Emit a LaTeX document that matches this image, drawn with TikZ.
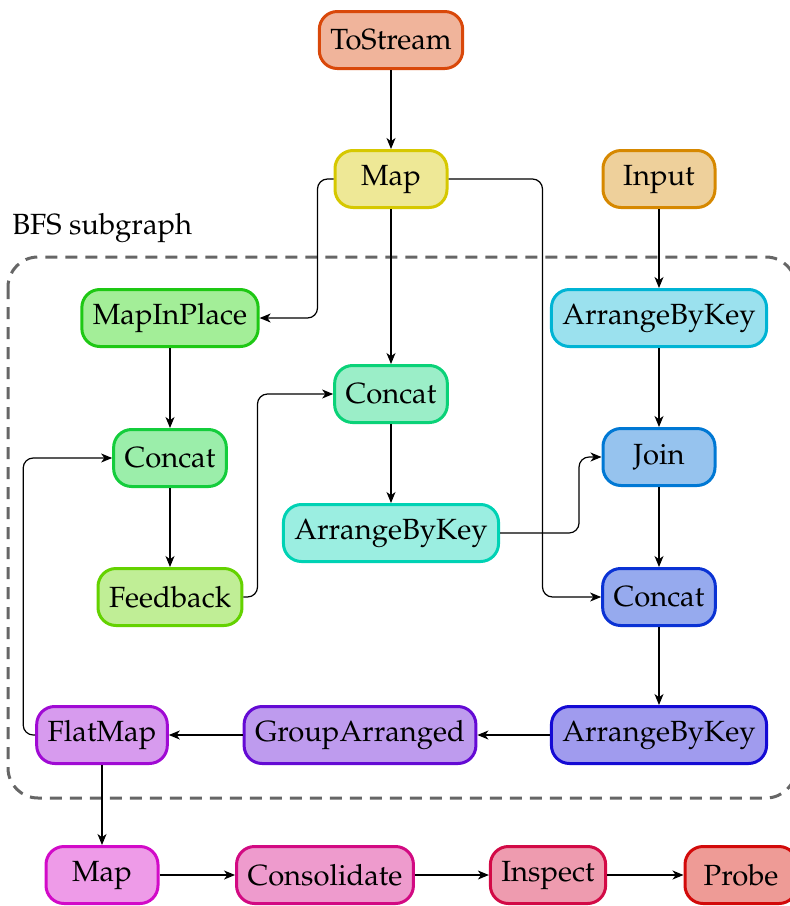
\documentclass[tikz,border=0pt]{standalone}
\usepackage[T1]{fontenc}
\usepackage{mathpazo}
\usetikzlibrary{arrows.meta}

% border / fill colours of the operator boxes
\definecolor{bToStream}{RGB}{217,72,10}   \definecolor{fToStream}{RGB}{240,180,155}
\definecolor{bMapA}{RGB}{214,200,0}       \definecolor{fMapA}{RGB}{238,232,150}
\definecolor{bInput}{RGB}{214,136,0}      \definecolor{fInput}{RGB}{238,208,155}
\definecolor{bMapIP}{RGB}{30,200,20}      \definecolor{fMapIP}{RGB}{163,238,152}
\definecolor{bConcatL}{RGB}{20,205,60}    \definecolor{fConcatL}{RGB}{155,238,170}
\definecolor{bFeedback}{RGB}{100,210,0}   \definecolor{fFeedback}{RGB}{192,238,150}
\definecolor{bConcatM}{RGB}{10,210,120}   \definecolor{fConcatM}{RGB}{155,238,200}
\definecolor{bAbkT}{RGB}{0,210,180}       \definecolor{fAbkT}{RGB}{155,238,225}
\definecolor{bAbkC}{RGB}{0,180,212}       \definecolor{fAbkC}{RGB}{155,225,238}
\definecolor{bJoin}{RGB}{0,120,212}       \definecolor{fJoin}{RGB}{150,195,238}
\definecolor{bConcatB}{RGB}{10,50,212}    \definecolor{fConcatB}{RGB}{150,170,238}
\definecolor{bAbkV}{RGB}{20,10,212}       \definecolor{fAbkV}{RGB}{160,155,238}
\definecolor{bGroup}{RGB}{100,10,212}     \definecolor{fGroup}{RGB}{190,155,238}
\definecolor{bFlat}{RGB}{160,10,212}      \definecolor{fFlat}{RGB}{215,155,238}
\definecolor{bMapB}{RGB}{210,10,200}      \definecolor{fMapB}{RGB}{238,155,232}
\definecolor{bCons}{RGB}{210,10,130}      \definecolor{fCons}{RGB}{238,155,205}
\definecolor{bInsp}{RGB}{210,10,70}       \definecolor{fInsp}{RGB}{238,155,175}
\definecolor{bProbe}{RGB}{210,10,10}      \definecolor{fProbe}{RGB}{238,155,150}
\definecolor{frame}{RGB}{102,102,102}

\tikzset{
  op/.style 2 args={draw=#1, fill=#2, line width=1.5pt, rounded corners=9pt,
    minimum height=28.5pt, minimum width=56pt, inner xsep=5.5pt,
    font=\fontsize{14.6}{17.5}\selectfont},
  arr/.style={-{Stealth[length=5.5pt,width=4.5pt,inset=1.6pt]}, line width=0.6pt,
    rounded corners=5pt},
  subgraph/.style={draw=frame, line width=1.5pt, dash pattern=on 6pt off 4pt,
    rounded corners=15pt},
}

\begin{document}
\begin{tikzpicture}[x=0.5pt, y=-0.5pt]
\useasboundingbox (0,0) rectangle (790,906);

% cluster frame and its caption
\draw[subgraph] (8,257) rectangle (796,798);
\node[anchor=west, inner sep=0pt, font=\fontsize{14.6}{17.5}\selectfont] (cap) at (12,228) {BFS subgraph};

% operators
\node[op={bToStream}{fToStream}] (tostream) at (391,40)  {ToStream};
\node[op={bMapA}{fMapA}]         (mapA)     at (391,179) {Map};
\node[op={bInput}{fInput}]       (input)    at (659,179) {Input};
\node[op={bMapIP}{fMapIP}]       (mapip)    at (170,318) {MapInPlace};
\node[op={bAbkC}{fAbkC}]         (abkC)     at (659,318) {ArrangeByKey};
\node[op={bConcatM}{fConcatM}]   (concatM)  at (391,394) {Concat};
\node[op={bConcatL}{fConcatL}]   (concatL)  at (170,458) {Concat};
\node[op={bJoin}{fJoin}]         (join)     at (659,457) {Join};
\node[op={bAbkT}{fAbkT}]         (abkT)     at (391,533) {ArrangeByKey};
\node[op={bFeedback}{fFeedback}] (feedback) at (170,597) {Feedback};
\node[op={bConcatB}{fConcatB}]   (concatB)  at (659,597) {Concat};
\node[op={bFlat}{fFlat}]         (flatmap)  at (102,735) {FlatMap};
\node[op={bGroup}{fGroup}]       (group)    at (360,735) {GroupArranged};
\node[op={bAbkV}{fAbkV}]         (abkV)     at (659,735) {ArrangeByKey};
\node[op={bMapB}{fMapB}]         (mapB)     at (102,875) {Map};
\node[op={bCons}{fCons}]         (cons)     at (325,875) {Consolidate};
\node[op={bInsp}{fInsp}]         (insp)     at (548,875) {Inspect};
\node[op={bProbe}{fProbe}]       (probe)    at (741,875) {Probe};

% dataflow edges
\draw[arr] (tostream) -- (mapA);
\draw[arr] (mapA.west) -- ++(-16,0) |- (mapip.east);
\draw[arr] (mapA) -- (concatM);
\draw[arr] (mapA.east) -- ++(94,0) |- (concatB.west);
\draw[arr] (input) -- (abkC);
\draw[arr] (abkC) -- (join);
\draw[arr] (join) -- (concatB);
\draw[arr] (concatB) -- (abkV);
\draw[arr] (abkV) -- (group);
\draw[arr] (group) -- (flatmap);
\draw[arr] (flatmap.west) -- ++(-12,0) |- (concatL.west);
\draw[arr] (mapip) -- (concatL);
\draw[arr] (concatL) -- (feedback);
\draw[arr] (feedback.east) -- ++(14,0) |- (concatM.west);
\draw[arr] (concatM) -- (abkT);
\draw[arr] (abkT.east) -- ++(79,0) |- (join.west);
\draw[arr] (flatmap) -- (mapB);
\draw[arr] (mapB) -- (cons);
\draw[arr] (cons) -- (insp);
\draw[arr] (insp) -- (probe);
\end{tikzpicture}
\end{document}
